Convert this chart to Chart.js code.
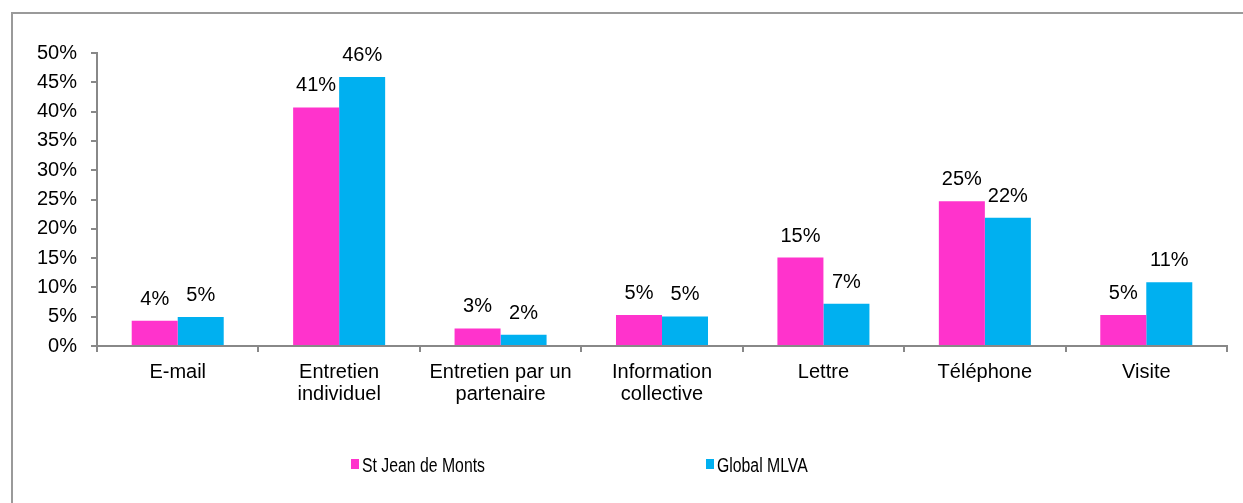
<!DOCTYPE html>
<html>
<head>
<meta charset="utf-8">
<script src="https://cdn.jsdelivr.net/npm/chart.js@4"></script>
<style>
  html, body { margin: 0; padding: 0; background: #ffffff; }
  #wrap { position: relative; width: 1243px; height: 503px; overflow: hidden; background: #fff; }
  #frame { position: absolute; left: 11px; top: 12px; width: 1300px; height: 600px;
           border-top: 2px solid #9a9a9a; border-left: 2px solid #9a9a9a; box-sizing: border-box; }
  canvas { position: absolute; left: 0; top: 0; }
  .leg { position: absolute; font-family: "Liberation Sans", Arial, sans-serif;
         font-size: 20px; line-height: 1; color: #000; white-space: nowrap;
         transform: scaleX(0.79); transform-origin: 0 0; }
  .sw { position: absolute; width: 8px; height: 10px; }
</style>
</head>
<body>
<div id="wrap">
  <div id="frame"></div>
  <canvas id="c" width="1243" height="503"></canvas>
  <div id="legend"></div>
</div>
<script>
const categories = ['E-mail', ['Entretien', 'individuel'], ['Entretien par un', 'partenaire'], ['Information', 'collective'], 'Lettre', 'Téléphone', 'Visite'];
const seriesNames = ['St Jean de Monts', 'Global MLVA'];
const stJeanDeMonts = [4.3, 40.7, 3.0, 5.3, 15.1, 24.7, 5.3];
const globalMLVA = [4.95, 45.9, 1.9, 5.05, 7.2, 21.9, 10.9];
const seriesColors = ['#FF33CC', '#00B0F0'];
const yMax = 50;
const yStep = 5;

const FONT = 'Liberation Sans, Arial, sans-serif';
const FS = 20;

const dataLabels = {
  id: 'dataLabels',
  afterDatasetsDraw(chart) {
    const ctx = chart.ctx;
    ctx.save();
    ctx.font = FS + 'px ' + FONT;
    ctx.fillStyle = '#000';
    ctx.textAlign = 'center';
    ctx.textBaseline = 'alphabetic';
    chart.data.datasets.forEach((ds, di) => {
      const meta = chart.getDatasetMeta(di);
      meta.data.forEach((bar, i) => {
        ctx.fillText(Math.round(ds.data[i]) + '%', bar.x, bar.y - 16);
      });
    });
    ctx.restore();
  }
};

const chart = new Chart(document.getElementById('c'), {
  type: 'bar',
  data: {
    labels: categories,
    datasets: [
      { label: seriesNames[0], data: stJeanDeMonts, backgroundColor: seriesColors[0], borderWidth: 0 },
      { label: seriesNames[1], data: globalMLVA, backgroundColor: seriesColors[1], borderWidth: 0 }
    ]
  },
  options: {
    responsive: false,
    animation: false,
    devicePixelRatio: 1,
    categoryPercentage: 0.57,
    barPercentage: 1.0,
    layout: { padding: { left: 0, right: 16, top: 53, bottom: 0 } },
    plugins: {
      legend: { display: false },
      tooltip: { enabled: false }
    },
    scales: {
      x: {
        grid: { display: true, drawOnChartArea: false, drawTicks: true, tickLength: 6, color: '#888888', lineWidth: 2, offset: true },
        border: { display: true, color: '#888888', width: 2 },
        ticks: { color: '#000', font: { family: FONT, size: FS, lineHeight: 1.1 }, padding: 9, maxRotation: 0, autoSkip: false },
        afterFit(scale) { scale.height = 157; }
      },
      y: {
        min: 0, max: yMax,
        grid: { display: true, drawOnChartArea: false, drawTicks: true, tickLength: 6, color: '#888888', lineWidth: 2 },
        border: { display: true, color: '#888888', width: 2 },
        ticks: { stepSize: yStep, color: '#000', font: { family: FONT, size: FS }, padding: 14,
                 callback: (v) => v + '%' },
        afterFit(scale) { scale.width = 97; }
      }
    }
  },
  plugins: [dataLabels]
});

// HTML legend built from the series arrays
const legendPos = [{ sx: 351, tx: 362 }, { sx: 706, tx: 717 }];
const legend = document.getElementById('legend');
seriesNames.forEach((name, i) => {
  const sw = document.createElement('div');
  sw.className = 'sw';
  sw.style.left = legendPos[i].sx + 'px';
  sw.style.top = '459px';
  sw.style.background = seriesColors[i];
  legend.appendChild(sw);
  const t = document.createElement('div');
  t.className = 'leg';
  t.style.left = legendPos[i].tx + 'px';
  t.style.top = '455px';
  t.textContent = name;
  legend.appendChild(t);
});
</script>
</body>
</html>
